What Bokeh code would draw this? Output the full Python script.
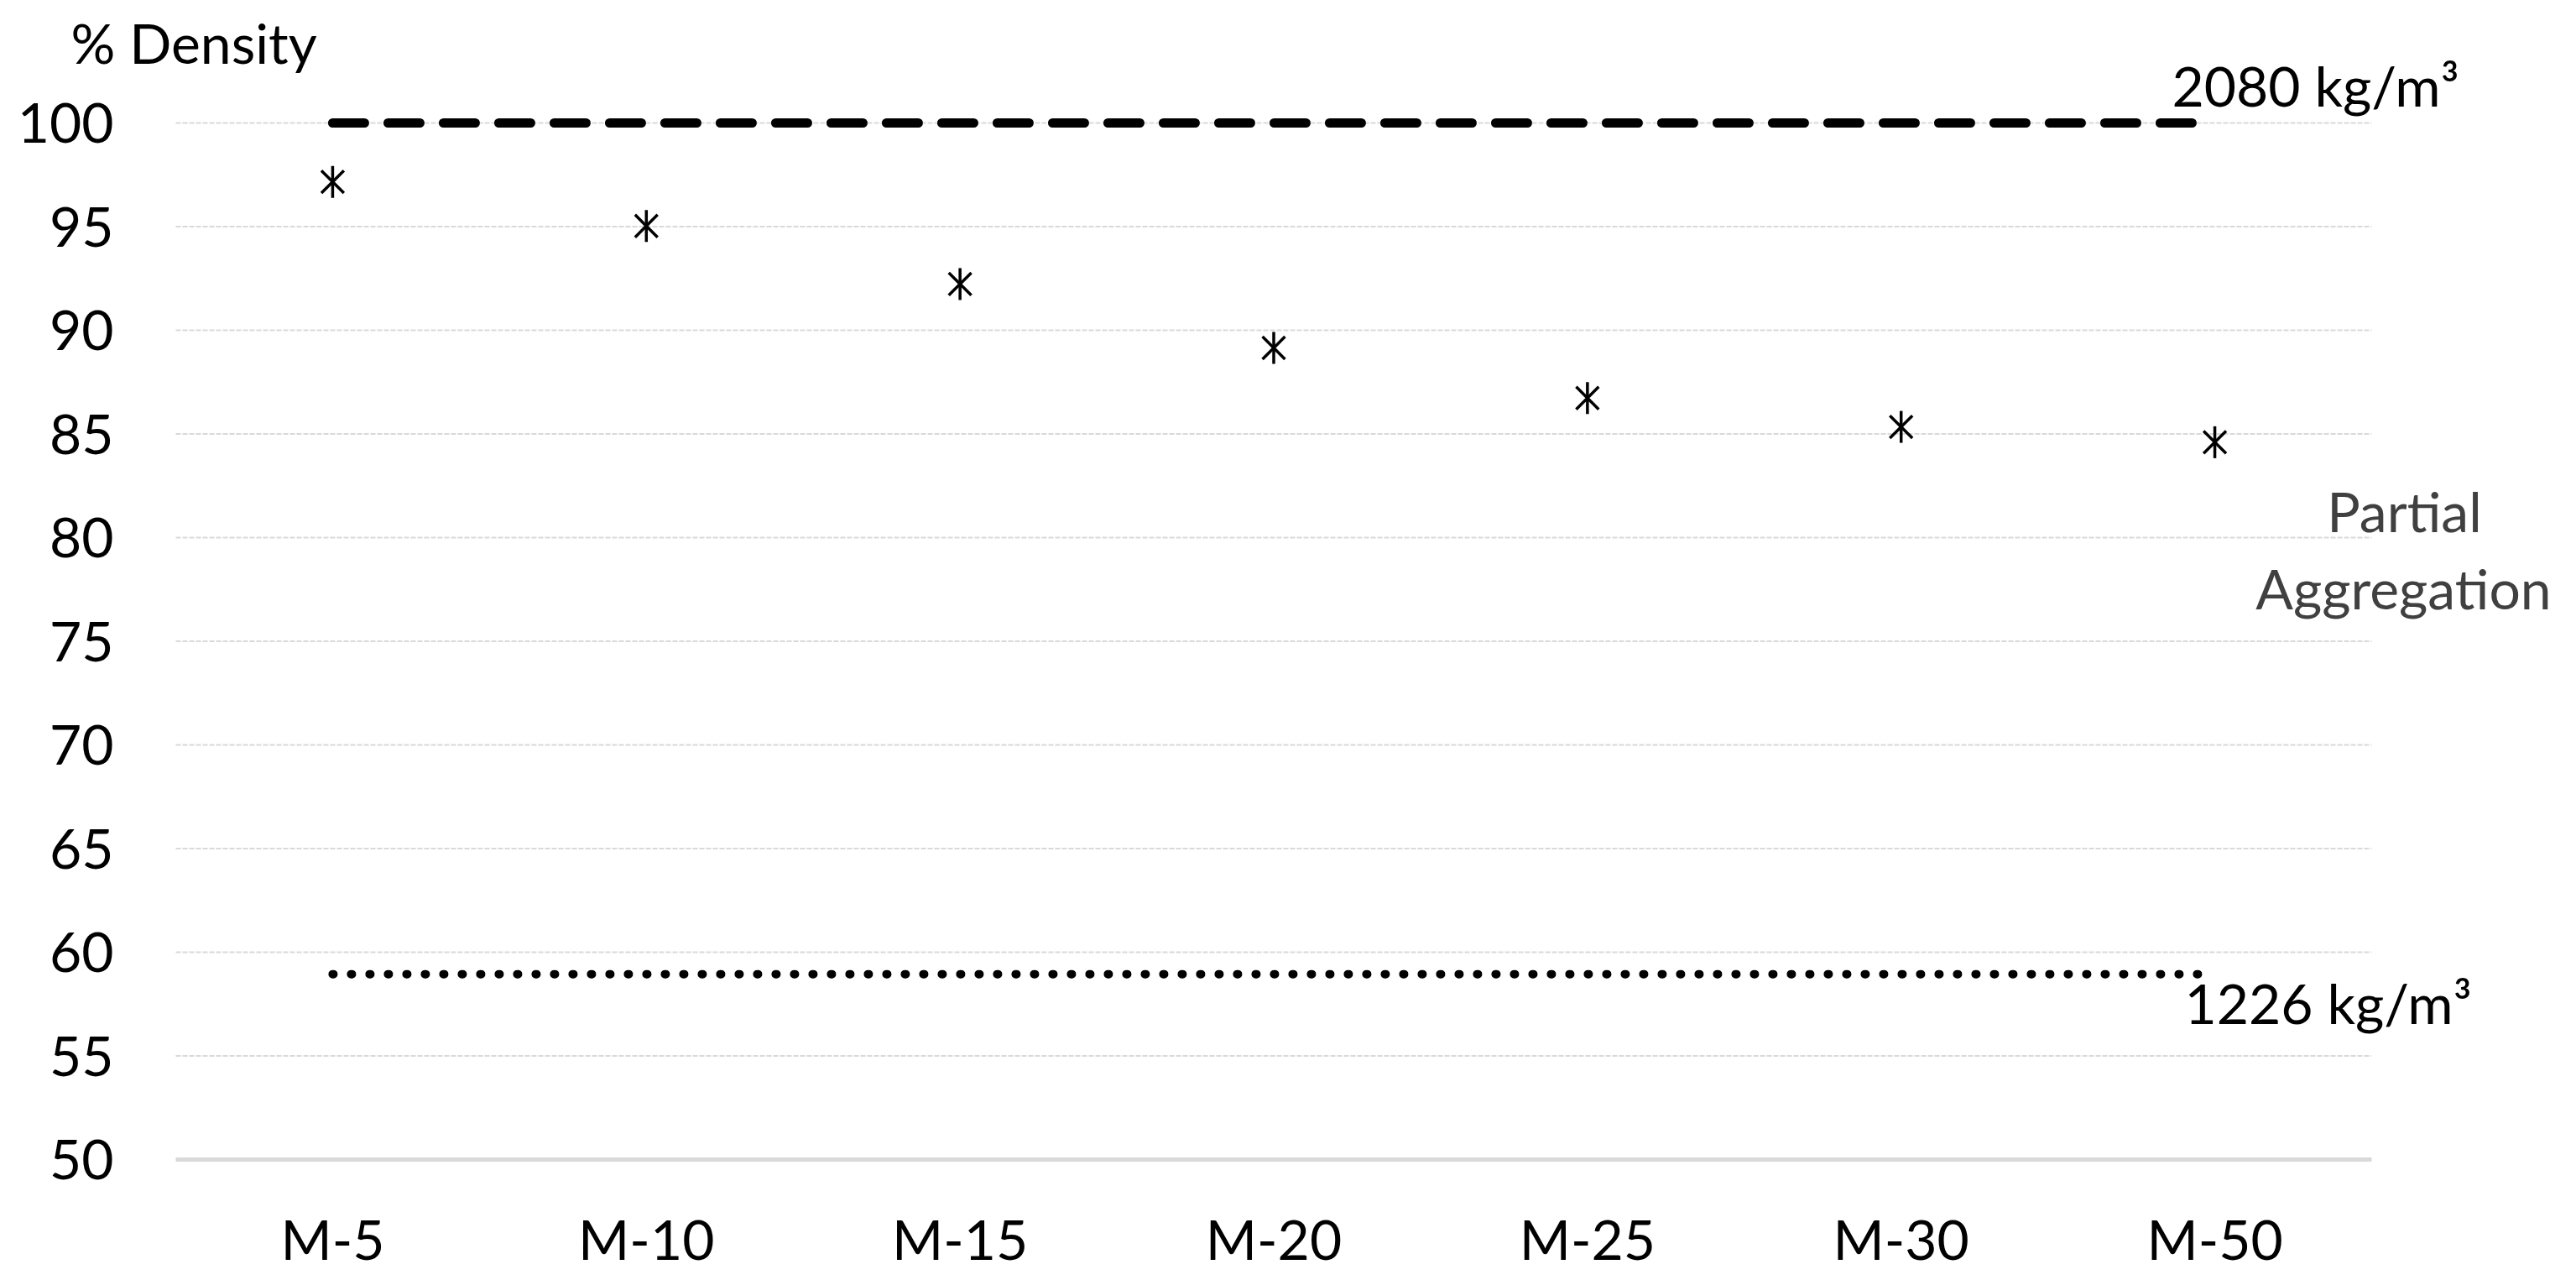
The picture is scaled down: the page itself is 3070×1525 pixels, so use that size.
from bokeh.plotting import figure
from bokeh.models import Range1d, FixedTicker, Label
from bokeh.core.properties import value
from bokeh.embed import file_html
from bokeh.resources import INLINE
import math

# ---- data ----
categories = ["M-5", "M-10", "M-15", "M-20", "M-25", "M-30", "M-50"]
density_pct = [97.16, 95.03, 92.23, 89.15, 86.73, 85.34, 84.60]
ref_full_kg = 2080
ref_min_kg = 1226
ref_full_pct = 100.0
ref_min_pct = ref_min_kg / ref_full_kg * 100.0
y_tick_values = [50, 55, 60, 65, 70, 75, 80, 85, 90, 95, 100]
y_tick_labels = [str(v) for v in y_tick_values]

FONT = "Lato"
FS = "66px"

# ---- layout (pixels) ----
W, H = 3062, 1517
LEFT, TOP = 209, 146             # start of gridlines; position of the 100 line
PLOT_RIGHT, BOTTOM = 2826, 1381  # end of gridlines; axis line (value 50)
EXTRA_BOTTOM = 45                # frame extends a bit below the axis line
px_per_x = (PLOT_RIGHT - LEFT) / len(categories)
px_per_y = (BOTTOM - TOP) / (y_tick_values[-1] - y_tick_values[0])

xpos = [i + 1 for i in range(len(categories))]
x_lo = 0.5 - LEFT / px_per_x
x_hi = x_lo + W / px_per_x
y_lo = y_tick_values[0] - EXTRA_BOTTOM / px_per_y
y_hi = y_tick_values[-1] + TOP / px_per_y

p = figure(width=W, height=H, output_backend="svg", toolbar_location=None,
           x_range=Range1d(x_lo, x_hi), y_range=Range1d(y_lo, y_hi),
           y_axis_location=None)
p.min_border_left = 0
p.min_border_right = 0
p.min_border_top = 0
p.min_border_bottom = H - BOTTOM - EXTRA_BOTTOM
p.outline_line_color = None
p.background_fill_color = "white"
p.border_fill_color = "white"
p.xgrid.grid_line_color = None
p.ygrid.grid_line_color = None

# x axis (categories)
p.xaxis.ticker = FixedTicker(ticks=xpos)
p.xaxis.major_label_overrides = {float(x): c for x, c in zip(xpos, categories)}
p.xaxis.axis_line_color = None
p.xaxis.major_tick_line_color = None
p.xaxis.minor_tick_line_color = None
p.xaxis.major_tick_out = 0
p.xaxis.major_tick_in = 0
p.xaxis.major_label_standoff = 54 - EXTRA_BOTTOM
p.xaxis.major_label_text_font = FONT
p.xaxis.major_label_text_font_size = FS
p.xaxis.major_label_text_color = "black"

def sx(px):
    return x_lo + px / px_per_x

def sy(py):
    return y_tick_values[0] + (BOTTOM - py) / px_per_y

# gridlines (55..100) and axis line (50), limited to the category span
gx0 = xpos[0] - 0.5
gx1 = xpos[-1] + 0.5
p.segment(x0=[gx0] * (len(y_tick_values) - 1), x1=[gx1] * (len(y_tick_values) - 1),
          y0=y_tick_values[1:], y1=y_tick_values[1:],
          line_color="#d9d9d9", line_width=2, line_dash="6 2")
p.segment(x0=[gx0], x1=[gx1], y0=[y_tick_values[0]], y1=[y_tick_values[0]],
          line_color="#d9d9d9", line_width=5)

# y tick labels
p.text(x=[sx(135)] * len(y_tick_values), y=y_tick_values, text=y_tick_labels,
       text_align="right", text_baseline="middle", text_font=value(FONT),
       text_font_size=value(FS), text_color="black")

# reference lines
p.line(x=[xpos[0], xpos[-1]], y=[ref_full_pct, ref_full_pct],
       line_color="black", line_width=11, line_dash="38 28", line_cap="round")
p.line(x=[xpos[0], xpos[-1]], y=[ref_min_pct, ref_min_pct],
       line_color="black", line_width=10, line_dash="1 21", line_cap="round")

# markers: asterisk (X + vertical bar)
p.scatter(x=xpos, y=density_pct, marker="x", size=38,
          line_color="black", line_width=3.5)
p.scatter(x=xpos, y=density_pct, marker="dash", size=38, angle=math.pi / 2,
          line_color="black", line_width=3.5)

def add_label(px, py, text, color="black", align="left"):
    p.add_layout(Label(x=sx(px), y=sy(py), text=text, text_font=FONT,
                       text_font_size=FS, text_color=color, text_align=align,
                       text_baseline="alphabetic"))

add_label(84, 50, "% Density")
add_label(2588, 101, f"{ref_full_kg} kg/m³")
add_label(2603, 1194, f"{ref_min_kg} kg/m³")
add_label(2865, 608, "Partial", color="#404040", align="center")
add_label(2864, 700, "Aggregation", color="#404040", align="center")

open("out.html", "w").write(file_html(p, INLINE))
